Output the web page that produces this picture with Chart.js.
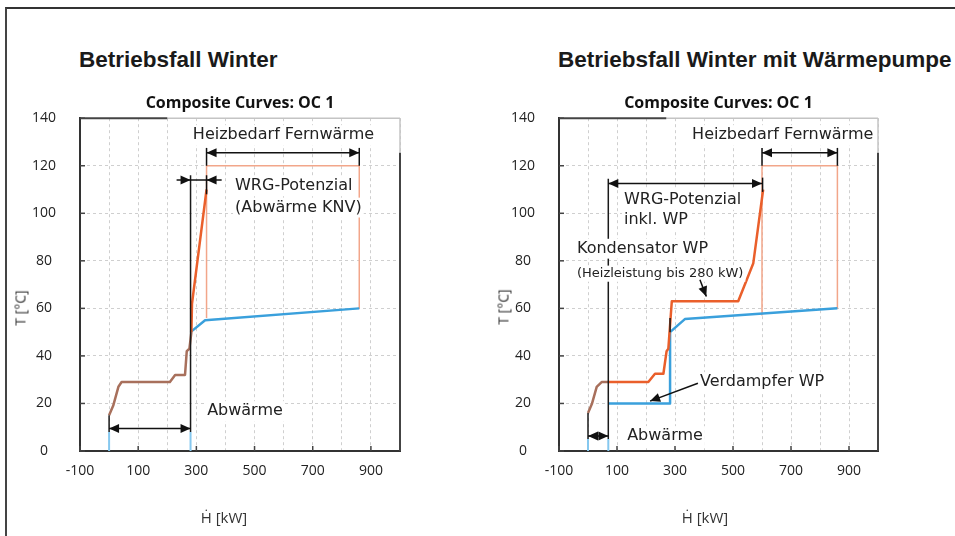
<!DOCTYPE html>
<html>
<head>
<meta charset="utf-8">
<script src="https://cdn.jsdelivr.net/npm/chart.js@4.4.1/dist/chart.umd.min.js"></script>
<style>
  body { margin:0; background:#fff; width:955px; height:536px; overflow:hidden; position:relative; font-family:"Liberation Sans", Arial, sans-serif; }
  .frame { position:absolute; left:5px; top:7px; width:960px; height:540px; border-top:2px solid #333; border-left:2px solid #444; }
  .box { position:absolute; top:0; height:536px; }
  .big { position:absolute; top:49px; font-weight:bold; font-size:22.5px; line-height:22px; color:#1a1a1a; white-space:nowrap; }
  .ytitle { position:absolute; font:14px "Open Sans"; color:#333; transform:translate(-50%,-50%) rotate(-90deg); white-space:nowrap; }
  .xtitle { position:absolute; font:15px "Open Sans"; color:#333; transform:translate(-50%,-50%); white-space:nowrap; }
</style>
</head>
<body>
<div class="frame"></div>
<div class="big" style="left:79px">Betriebsfall Winter</div>
<div class="big" style="left:558px">Betriebsfall Winter mit Wärmepumpe</div>
<div class="box" style="left:0;width:477px"><canvas id="c1"></canvas></div>
<div class="box" style="left:477px;width:478px"><canvas id="c2"></canvas></div>
<div class="ytitle" style="left:20px;top:308px">T [°C]</div>
<div class="ytitle" style="left:503px;top:307px">T [°C]</div>
<div class="xtitle" style="left:224px;top:517px">Ḣ [kW]</div>
<div class="xtitle" style="left:705px;top:517px">Ḣ [kW]</div>
<script>
// tick labels
const xLabels = [-100, 100, 300, 500, 700, 900];
const yLabels = [0, 20, 40, 60, 80, 100, 120, 140];

// Betriebsfall Winter
const w1HotLowH  = [0, 14, 32, 43, 209, 227, 261, 267, 276, 283];
const w1HotLowT  = [15, 19, 27, 29, 29, 32, 32, 42, 43, 50];
const w1HotHighH = [283, 285, 335];
const w1HotHighT = [50, 62, 110];
const w1ColdH    = [280, 330, 860];
const w1ColdT    = [50, 55, 60];
const w1DemandH  = [335, 335, 860, 860];
const w1DemandT  = [56, 120, 120, 60];
const w1Stubs    = [[0, 0, 8], [280, 0, 8]];            // [H, T von, T bis]
const w1Walls    = [[0, 8, 15], [280, 8, 116]];

// Betriebsfall Winter mit Wärmepumpe
const w2HotLowH  = [0, 14, 30, 47, 70];
const w2HotLowT  = [16, 20, 27, 29, 29];
const w2HotHighH = [70, 208, 231, 260, 271, 277, 289, 518, 570, 604];
const w2HotHighT = [29, 29, 32.5, 32.5, 42, 43, 63, 63, 79, 110];
const w2ColdH    = [70, 283, 283, 334, 860];
const w2ColdT    = [20, 20, 50, 55.5, 60];
const w2DemandH  = [600, 600, 860, 860];
const w2DemandT  = [57, 120, 120, 60];
const w2Stubs    = [[0, 0, 5], [70, 0, 5]];
const w2Walls    = [[0, 5, 16], [70, 5, 114.5], [283, 50, 56]];

// annotations: [text, H (left edge), T (middle), size]
const w1Texts = [
  ['Heizbedarf Fernwärme', 288, 132.9, 16],
  ['WRG-Potenzial', 433, 111.5, 16],
  ['(Abwärme KNV)', 433, 102.4, 16],
  ['Abwärme', 337, 16.8, 16]
];
const w2Texts = [
  ['Heizbedarf Fernwärme', 359, 132.9, 16],
  ['WRG-Potenzial', 124, 105.6, 16],
  ['inkl. WP', 124, 97.2, 16],
  ['Kondensator WP', -38, 85.1, 16],
  ['(Heizleistung bis 280 kW)', -38, 74.6, 13],
  ['Verdampfer WP', 386, 29, 16],
  ['Abwärme', 135, 6.3, 16]
];
// arrows: [H1, T1, H2, T2, heads]
const w1Arrows = [
  [335, 125.5, 860, 125.5, 'both'],
  [335, 120, 335, 127.5, 'none'],
  [860, 120, 860, 127.5, 'none'],
  [232, 114, 280, 114, 'end'],
  [387, 114, 335, 114, 'end'],
  [280, 114, 335, 114, 'none'],
  [335, 108, 335, 116, 'none'],
  [0, 9.5, 280, 9.5, 'both']
];
const w2Arrows = [
  [600, 125.5, 860, 125.5, 'both'],
  [600, 120, 600, 127.5, 'none'],
  [860, 120, 860, 127.5, 'none'],
  [70, 112.5, 600, 112.5, 'both'],
  [602, 109, 602, 115, 'none'],
  [0, 6.3, 70, 6.3, 'both'],
  [379, 28.5, 214, 21, 'end'],
  [386, 72, 408, 65, 'end']
];

const HOT = '#ea5f2b', BROWN = '#a8705c', COLD = '#3aa0dc', DEMAND = '#f2a68a', STUB = '#86c8ef', WALL = '#1a1a1a';

function path(hs, ts) { return hs.map((h, i) => ({x: h, y: ts[i]})); }
function lineSet(data, color, width) {
  return { data: data, borderColor: color, backgroundColor: color, borderWidth: width, showLine: true,
           pointRadius: 0, fill: false, tension: 0, borderJoinStyle: 'round' };
}
function vertSets(list, color, width) {
  return list.map(v => lineSet([{x: v[0], y: v[1]}, {x: v[0], y: v[2]}], color, width));
}

function stroke(ctx, x1, y1, x2, y2) {
  ctx.beginPath(); ctx.moveTo(x1, y1); ctx.lineTo(x2, y2); ctx.stroke();
}
function head(ctx, x1, y1, x2, y2) {
  const a = Math.atan2(y2 - y1, x2 - x1), L = 10, W = 4.5;
  ctx.beginPath();
  ctx.moveTo(x2, y2);
  ctx.lineTo(x2 - L * Math.cos(a) + W * Math.sin(a), y2 - L * Math.sin(a) - W * Math.cos(a));
  ctx.lineTo(x2 - L * Math.cos(a) - W * Math.sin(a), y2 - L * Math.sin(a) + W * Math.cos(a));
  ctx.closePath(); ctx.fill();
}

const notes = {
  id: 'notes',
  afterDatasetsDraw(chart, args, o) {
    const ctx = chart.ctx, a = chart.chartArea;
    const X = v => chart.scales.x.getPixelForValue(v);
    const Y = v => chart.scales.y.getPixelForValue(v);
    ctx.save();
    // rahmen
    ctx.lineWidth = 1.5; ctx.strokeStyle = '#c4c4c4';
    stroke(ctx, X(o.topDarkTo), a.top, a.right, a.top);
    stroke(ctx, a.right, a.top, a.right, Y(o.rightDarkFrom));
    ctx.lineWidth = 2; ctx.strokeStyle = '#444';
    stroke(ctx, a.left, a.top, X(o.topDarkTo), a.top);
    stroke(ctx, a.right, Y(o.rightDarkFrom), a.right, a.bottom);
    ctx.lineWidth = 1.5;
    xLabels.forEach(v => stroke(ctx, X(v), a.bottom, X(v), a.bottom - 5));
    yLabels.forEach(v => stroke(ctx, a.left, Y(v), a.left + 5, Y(v)));
    // texte
    o.texts.forEach(t => {
      ctx.font = t[3] + 'px "DejaVu Sans"';
      const w = ctx.measureText(t[0]).width;
      const px = X(t[1]), py = Y(t[2]);
      ctx.fillStyle = '#fff';
      ctx.fillRect(px - 2, py - t[3] * 0.62, w + 4, t[3] * 1.24);
      ctx.fillStyle = '#222';
      ctx.textBaseline = 'middle'; ctx.textAlign = 'left';
      ctx.fillText(t[0], px, py);
    });
    // pfeile
    ctx.strokeStyle = '#111'; ctx.fillStyle = '#111'; ctx.lineWidth = 1.5;
    o.arrows.forEach(r => {
      const x1 = X(r[0]), y1 = Y(r[1]), x2 = X(r[2]), y2 = Y(r[3]);
      stroke(ctx, x1, y1, x2, y2);
      if (r[4] === 'end' || r[4] === 'both') head(ctx, x1, y1, x2, y2);
      if (r[4] === 'both') head(ctx, x2, y2, x1, y1);
    });
    ctx.restore();
  }
};

function makeChart(id, sets, yWidth, texts, arrows, topDarkTo) {
  new Chart(document.getElementById(id), {
    type: 'scatter',
    data: { datasets: sets },
    options: {
      responsive: true,
      maintainAspectRatio: false,
      animation: false,
      events: [],
      layout: { padding: { left: 0, right: 77, top: 0, bottom: 0 } },
      plugins: {
        legend: { display: false },
        tooltip: { enabled: false },
        title: {
          display: true, text: 'Composite Curves: OC 1', fullSize: false,
          font: { family: 'Open Sans', size: 16, weight: 'bold' }, color: '#111',
          padding: { top: 94, bottom: 5 }
        },
        notes: { texts: texts, arrows: arrows, topDarkTo: topDarkTo, rightDarkFrom: 125.5 }
      },
      scales: {
        x: {
          type: 'linear', min: -100, max: 1000,
          ticks: { stepSize: 100, autoSkip: false, maxRotation: 0, padding: 12, color: '#222',
                   font: { family: 'Open Sans', size: 14 },
                   callback: v => xLabels.includes(v) ? String(v) : '' },
          grid: { color: '#cfcfcf', lineWidth: 1, drawTicks: false },
          border: { color: '#333', width: 2, dash: [3, 3] },
          afterFit: s => { s.height = 85; }
        },
        y: {
          min: 0, max: 140,
          ticks: { stepSize: 20, padding: 24, crossAlign: 'center', color: '#222',
                   font: { family: 'Open Sans', size: 14 } },
          grid: { color: '#cfcfcf', lineWidth: 1, drawTicks: false },
          border: { color: '#333', width: 2, dash: [3, 3] },
          afterFit: s => { s.width = yWidth; }
        }
      }
    },
    plugins: [notes]
  });
}

makeChart('c1', [].concat(
  vertSets(w1Walls, WALL, 1.5),
  [lineSet(path(w1HotHighH, w1HotHighT), HOT, 2.5),
   lineSet(path(w1HotLowH, w1HotLowT), BROWN, 2.5),
   lineSet(path(w1ColdH, w1ColdT), COLD, 2.5),
   lineSet(path(w1DemandH, w1DemandT), DEMAND, 1.5)],
  vertSets(w1Stubs, STUB, 2)
), 80, w1Texts, w1Arrows, 200);

makeChart('c2', [].concat(
  vertSets(w2Walls, WALL, 1.5),
  [lineSet(path(w2HotHighH, w2HotHighT), HOT, 2.5),
   lineSet(path(w2HotLowH, w2HotLowT), BROWN, 2.5),
   lineSet(path(w2ColdH, w2ColdT), COLD, 2.5),
   lineSet(path(w2DemandH, w2DemandT), DEMAND, 1.5)],
  vertSets(w2Stubs, STUB, 2)
), 82, w2Texts, w2Arrows, 270);
</script>
</body>
</html>
